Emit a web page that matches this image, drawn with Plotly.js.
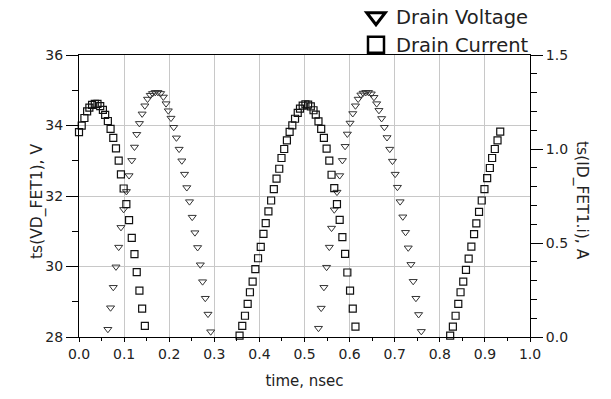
<!DOCTYPE html>
<html>
<head>
<meta charset="utf-8">
<script src="https://cdn.plot.ly/plotly-3.0.1.min.js"></script>
<style>html,body{margin:0;padding:0;background:#fff;}#chart{width:611px;height:399px;}</style>
</head>
<body>
<div id="chart"></div>
<script>
// Drain voltage samples (time in ns, value in V) - only the points inside the 28..36 V window
var voltTime = [0.064,0.070,0.076,0.082,0.088,0.093,0.099,0.105,0.111,0.117,0.123,0.128,0.134,0.140,0.146,0.152,0.158,0.163,0.169,0.175,0.181,0.187,0.193,0.198,0.204,0.210,0.216,0.222,0.228,0.234,0.239,0.245,0.251,0.257,0.263,0.269,0.274,0.280,0.286,0.292,
  0.531,0.537,0.543,0.549,0.555,0.560,0.566,0.572,0.578,0.584,0.590,0.595,0.601,0.607,0.613,0.619,0.625,0.630,0.636,0.642,0.648,0.654,0.660,0.665,0.671,0.677,0.683,0.689,0.695,0.701,0.706,0.712,0.718,0.724,0.730,0.736,0.741,0.747,0.753,0.759];
var voltValue = [28.22,28.83,29.41,29.99,30.55,31.11,31.62,32.13,32.58,33.01,33.39,33.75,34.06,34.33,34.56,34.75,34.86,34.91,34.94,34.94,34.91,34.81,34.62,34.42,34.21,33.95,33.65,33.33,33.00,32.62,32.24,31.84,31.40,30.96,30.54,30.05,29.57,29.10,28.65,28.15,
  28.25,28.82,29.41,29.98,30.55,31.09,31.61,32.11,32.58,33.01,33.41,33.76,34.07,34.34,34.56,34.75,34.87,34.92,34.94,34.94,34.90,34.80,34.62,34.43,34.20,33.95,33.66,33.33,32.99,32.62,32.25,31.84,31.41,30.97,30.53,30.06,29.58,29.10,28.64,28.16];

// Drain current samples (time in ns, value in A) - only the points above 0 A
var curTime = [0.000,0.006,0.012,0.018,0.023,0.029,0.035,0.041,0.047,0.053,0.058,0.064,0.070,0.076,0.082,0.088,0.093,0.099,0.105,0.111,0.117,0.123,0.128,0.134,0.140,0.146,
  0.356,0.362,0.368,0.374,0.379,0.385,0.391,0.397,0.403,0.409,0.414,0.420,0.426,0.432,0.438,0.444,0.449,0.455,0.461,0.467,0.473,0.479,0.485,0.490,0.496,0.502,0.508,0.514,0.520,0.525,0.531,0.537,0.543,0.549,0.555,0.560,0.566,0.572,0.578,0.584,0.590,0.595,0.601,0.607,0.613,
  0.823,0.829,0.835,0.841,0.846,0.852,0.858,0.864,0.870,0.876,0.881,0.887,0.893,0.899,0.905,0.911,0.916,0.922,0.928,0.934];
var curValue = [1.090,1.124,1.165,1.200,1.220,1.235,1.240,1.240,1.228,1.208,1.181,1.149,1.107,1.059,1.003,0.938,0.865,0.790,0.707,0.622,0.527,0.441,0.345,0.247,0.151,0.059,
  0.007,0.059,0.113,0.176,0.238,0.295,0.361,0.419,0.479,0.549,0.606,0.668,0.726,0.787,0.842,0.895,0.952,1.000,1.046,1.091,1.126,1.161,1.192,1.215,1.231,1.238,1.236,1.227,1.206,1.183,1.147,1.107,1.059,1.002,0.938,0.863,0.792,0.707,0.623,0.531,0.442,0.343,0.247,0.151,0.055,
  0.007,0.055,0.113,0.176,0.238,0.295,0.357,0.417,0.481,0.547,0.604,0.666,0.726,0.787,0.845,0.899,0.952,1.000,1.046,1.092];

var seriesNames = ['Drain Voltage', 'Drain Current'];
var xTitle = 'time, nsec';
var yTitle = 'ts(VD_FET1), V';
var y2Title = 'ts(ID_FET1.i), A';

var FONT = 'DejaVu Sans, Verdana, sans-serif';
var INK = '#222222';
var GRID = '#c8c8c8';

var traces = [
  {x: voltTime, y: voltValue, type: 'scatter', mode: 'markers', yaxis: 'y', showlegend: false, cliponaxis: false,
   marker: {symbol: 'triangle-down-open', size: 7, color: '#333', line: {width: 1, color: '#333'}}},
  {x: curTime, y: curValue, type: 'scatter', mode: 'markers', yaxis: 'y2', showlegend: false, cliponaxis: false,
   marker: {symbol: 'square-open', size: 7, color: '#111', line: {width: 1.2, color: '#111'}}},
  {x: [null], y: [null], type: 'scatter', mode: 'markers', name: seriesNames[0], legend: 'legend', showlegend: true,
   marker: {symbol: 'triangle-down-open', size: 16, color: '#000', line: {width: 3, color: '#000'}}},
  {x: [null], y: [null], type: 'scatter', mode: 'markers', name: seriesNames[1], yaxis: 'y2', legend: 'legend2', showlegend: true,
   marker: {symbol: 'square-open', size: 16, color: '#000', line: {width: 2.5, color: '#000'}}}
];

var legendBase = {xanchor: 'left', yanchor: 'middle', bgcolor: 'rgba(0,0,0,0)', borderwidth: 0,
  font: {family: FONT, size: 19.5, color: INK}, itemclick: false, tracegroupgap: 0};

var layout = {
  width: 611, height: 399,
  margin: {l: 79, r: 81, t: 55, b: 62, autoexpand: false},
  paper_bgcolor: '#fff', plot_bgcolor: '#fff',
  font: {family: FONT, size: 14, color: INK},
  xaxis: {range: [0, 1], tick0: 0, dtick: 0.1, tickformat: '.1f', ticks: 'outside', ticklen: 4, tickcolor: '#000',
    showgrid: true, gridcolor: GRID, gridwidth: 1, showline: true, linecolor: '#000', linewidth: 1, mirror: true, zeroline: false,
    minor: {dtick: 0.05, ticks: 'outside', ticklen: 3, tickcolor: '#000', showgrid: false},
    tickfont: {size: 14}, title: {text: xTitle, font: {size: 15}, standoff: 14}},
  yaxis: {range: [28, 36], tick0: 28, dtick: 2, ticks: 'outside', ticklen: 12, tickcolor: '#000',
    showgrid: true, gridcolor: GRID, gridwidth: 1, showline: true, linecolor: '#000', linewidth: 1, zeroline: false,
    minor: {dtick: 1, ticks: 'outside', ticklen: 6, tickcolor: '#000', showgrid: false},
    tickfont: {size: 14}, title: {text: ''}},
  yaxis2: {range: [0, 1.5], tick0: 0, dtick: 0.5, tickformat: '.1f', overlaying: 'y', side: 'right', anchor: 'x',
    ticks: 'outside', ticklen: 12, tickcolor: '#000', showgrid: false, showline: true, linecolor: '#000', linewidth: 1, zeroline: false,
    minor: {dtick: 0.1, ticks: 'outside', ticklen: 6, tickcolor: '#000', showgrid: false},
    tickfont: {size: 14}, title: {text: ''}},
  legend: Object.assign({}, legendBase, {x: (356 - 79) / 451, y: (337 - 17) / 282}),
  legend2: Object.assign({}, legendBase, {x: (356 - 79) / 451, y: (337 - 45) / 282}),
  annotations: [
    {text: yTitle, xref: 'paper', yref: 'paper', x: (38 - 79) / 451, y: (337 - 202) / 282, showarrow: false,
     textangle: -90, font: {family: FONT, size: 15.5, color: INK}, xanchor: 'center', yanchor: 'middle'},
    {text: y2Title, xref: 'paper', yref: 'paper', x: (582 - 79) / 451, y: (337 - 200) / 282, showarrow: false,
     textangle: 90, font: {family: FONT, size: 15.5, color: INK}, xanchor: 'center', yanchor: 'middle'}
  ]
};

Plotly.newPlot('chart', traces, layout, {displayModeBar: false, staticPlot: true});
</script>
</body>
</html>
